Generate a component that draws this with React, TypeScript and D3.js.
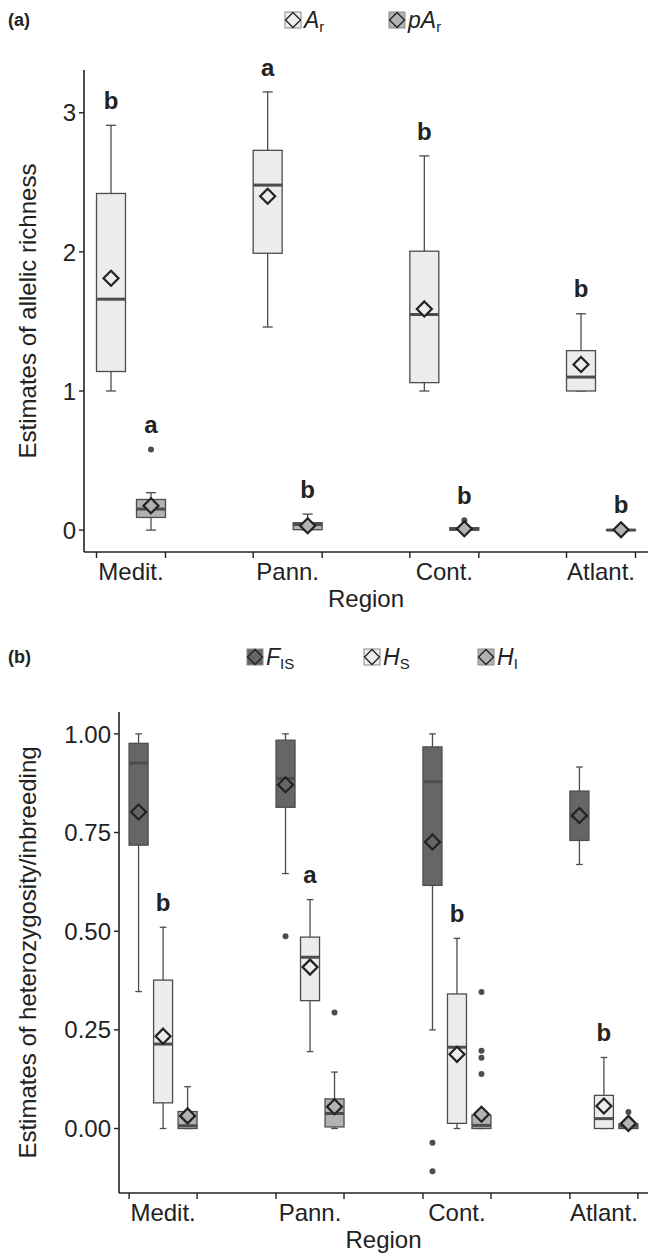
import React from "react";
import * as d3 from "d3";

// regions on the x axis
const regions = ["Medit.", "Pann.", "Cont.", "Atlant."];

// (a) allelic richness, Ar
const arLow = [1.0, 1.46, 1.0, 1.0];
const arQ1 = [1.14, 1.99, 1.06, 1.0];
const arMed = [1.66, 2.48, 1.55, 1.1];
const arQ3 = [2.42, 2.73, 2.005, 1.29];
const arHigh = [2.91, 3.15, 2.69, 1.555];
const arMean = [1.81, 2.4, 1.59, 1.19];
const arOut: number[][] = [[], [], [], []];
const arLetters = ["b", "a", "b", "b"];

// (a) private allelic richness, pAr
const parLow = [0, 0, 0, 0];
const parQ1 = [0.091, 0.003, 0.0, 0];
const parMed = [0.151, 0.04, 0.007, 0];
const parQ3 = [0.22, 0.053, 0.017, 0.002];
const parHigh = [0.269, 0.115, 0.017, 0.002];
const parMean = [0.175, 0.031, 0.01, 0.002];
const parOut: number[][] = [[0.58], [], [0.07], []];
const parLetters = ["a", "b", "b", "b"];

// (b) FIS
const fisLow = [0.347, 0.646, 0.25, 0.669];
const fisQ1 = [0.718, 0.814, 0.616, 0.73];
const fisMed = [0.926, 0.887, 0.879, 0.79];
const fisQ3 = [0.976, 0.984, 0.967, 0.855];
const fisHigh = [1.0, 1.0, 1.0, 0.916];
const fisMean = [0.802, 0.871, 0.726, 0.793];
const fisOut: number[][] = [[], [0.487], [-0.036, -0.108], []];
const fisLetters = ["", "", "", ""];

// (b) HS
const hsLow = [0, 0.195, 0, 0];
const hsQ1 = [0.065, 0.324, 0.013, 0];
const hsMed = [0.214, 0.434, 0.206, 0.025];
const hsQ3 = [0.376, 0.485, 0.341, 0.084];
const hsHigh = [0.51, 0.58, 0.482, 0.18];
const hsMean = [0.234, 0.409, 0.188, 0.057];
const hsOut: number[][] = [[], [], [], []];
const hsLetters = ["b", "a", "b", "b"];

// (b) HI
const hiLow = [0, 0, 0, 0];
const hiQ1 = [0, 0.004, 0, 0];
const hiMed = [0.007, 0.038, 0.008, 0.006];
const hiQ3 = [0.043, 0.075, 0.034, 0.012];
const hiHigh = [0.106, 0.143, 0.045, 0.02];
const hiMean = [0.032, 0.055, 0.036, 0.013];
const hiOut: number[][] = [[], [0.294], [0.346, 0.197, 0.179, 0.138], [0.042]];
const hiLetters = ["", "", "", ""];

const ticksA = [0, 1, 2, 3];
const ticksB = [0, 0.25, 0.5, 0.75, 1];

const FONT = "'Liberation Sans', Arial, Helvetica, sans-serif";
const INK = "#222";
const LINE = "#4d4d4d";

type Series = {
  main: string;
  sub: string;
  fill: string;
  low: number[];
  q1: number[];
  med: number[];
  q3: number[];
  high: number[];
  mean: number[];
  out: number[][];
  letters: string[];
};

const seriesA: Series[] = [
  { main: "A", sub: "r", fill: "#ececec", low: arLow, q1: arQ1, med: arMed, q3: arQ3, high: arHigh, mean: arMean, out: arOut, letters: arLetters },
  { main: "pA", sub: "r", fill: "#b2b2b2", low: parLow, q1: parQ1, med: parMed, q3: parQ3, high: parHigh, mean: parMean, out: parOut, letters: parLetters },
];

const seriesB: Series[] = [
  { main: "F", sub: "IS", fill: "#666666", low: fisLow, q1: fisQ1, med: fisMed, q3: fisQ3, high: fisHigh, mean: fisMean, out: fisOut, letters: fisLetters },
  { main: "H", sub: "S", fill: "#ececec", low: hsLow, q1: hsQ1, med: hsMed, q3: hsQ3, high: hsHigh, mean: hsMean, out: hsOut, letters: hsLetters },
  { main: "H", sub: "I", fill: "#b2b2b2", low: hiLow, q1: hiQ1, med: hiMed, q3: hiQ3, high: hiHigh, mean: hiMean, out: hiOut, letters: hiLetters },
];

const diamond = (cx: number, cy: number, r: number) =>
  `M${cx},${cy - r}L${cx + r},${cy}L${cx},${cy + r}L${cx - r},${cy}Z`;

type PanelProps = {
  series: Series[];
  tag: string;
  top: number;
  bottom: number;
  left: number;
  right: number;
  ticks: number[];
  fmt: (v: number) => string;
  yTitle: string;
  dodge: number;
  boxW: number;
  legendY: number;
  legendOffsets: number[];
  tagY: number;
};

function Panel(p: PanelProps) {
  const { series, top, bottom, left, right, dodge, boxW } = p;

  const all: number[] = [];
  series.forEach((s) => {
    all.push(...s.low, ...s.high);
    s.out.forEach((o) => all.push(...o));
  });
  const [lo, hi] = d3.extent(all) as [number, number];
  const pad = (hi - lo) * 0.05;

  const x = d3.scalePoint<string>().domain(regions).range([left, right]).padding(0.3);
  const y = d3.scaleLinear().domain([lo - pad, hi + pad]).range([bottom, top]);

  const n = series.length;
  const off = (i: number) => (i - (n - 1) / 2) * dodge;
  const edge = off(n - 1) + boxW / 2;
  const cap = boxW * 0.35;
  const cx = (left + right) / 2;

  return (
    <g>
      <text x={8} y={p.tagY} fontFamily={FONT} fontWeight="bold" fontSize={18} fill={INK}>
        {p.tag}
      </text>

      {/* legend */}
      {series.map((s, i) => {
        const kx = cx + p.legendOffsets[i];
        const ky = p.legendY;
        return (
          <g key={"lg" + i}>
            <rect x={kx} y={ky - 8} width={16} height={16} fill={s.fill} stroke="#8a8a8a" strokeWidth={1} />
            <path d={diamond(kx + 8, ky, 7.5)} fill={s.fill} stroke={INK} strokeWidth={1.3} />
            <text x={kx + 19} y={ky + 8} fontFamily={FONT} fontSize={23} fill={INK}>
              <tspan fontStyle="italic">{s.main}</tspan>
              <tspan fontSize={15} dy={4}>{s.sub}</tspan>
            </text>
          </g>
        );
      })}

      {/* boxes */}
      {regions.map((r, j) => (
        <g key={r}>
          {series.map((s, i) => {
            const bx = (x(r) as number) + off(i);
            const maxV = Math.max(s.high[j], ...s.out[j]);
            return (
              <g key={i}>
                <line x1={bx} x2={bx} y1={y(s.q3[j])} y2={y(s.high[j])} stroke={LINE} strokeWidth={1.3} />
                <line x1={bx} x2={bx} y1={y(s.q1[j])} y2={y(s.low[j])} stroke={LINE} strokeWidth={1.3} />
                <line x1={bx - cap / 2} x2={bx + cap / 2} y1={y(s.high[j])} y2={y(s.high[j])} stroke={LINE} strokeWidth={1.3} />
                <line x1={bx - cap / 2} x2={bx + cap / 2} y1={y(s.low[j])} y2={y(s.low[j])} stroke={LINE} strokeWidth={1.3} />
                <rect
                  x={bx - boxW / 2}
                  y={y(s.q3[j])}
                  width={boxW}
                  height={Math.max(y(s.q1[j]) - y(s.q3[j]), 0.5)}
                  fill={s.fill}
                  stroke={LINE}
                  strokeWidth={1.3}
                />
                <line x1={bx - boxW / 2} x2={bx + boxW / 2} y1={y(s.med[j])} y2={y(s.med[j])} stroke={LINE} strokeWidth={3} />
                {s.out[j].map((o, k) => (
                  <circle key={k} cx={bx} cy={y(o)} r={3} fill={LINE} />
                ))}
                <path d={diamond(bx, y(s.mean[j]), 7.5)} fill={s.fill} stroke={INK} strokeWidth={2.2} />
                {s.letters[j] && (
                  <text
                    x={bx}
                    y={y(maxV) - 25}
                    dy="0.36em"
                    textAnchor="middle"
                    fontFamily={FONT}
                    fontWeight="bold"
                    fontSize={24}
                    fill={INK}
                  >
                    {s.letters[j]}
                  </text>
                )}
              </g>
            );
          })}
        </g>
      ))}

      {/* axes */}
      <line x1={left} x2={left} y1={top} y2={bottom} stroke={INK} strokeWidth={1.6} />
      <line x1={left} x2={right} y1={bottom} y2={bottom} stroke={INK} strokeWidth={1.6} />
      {p.ticks.map((t) => (
        <g key={t}>
          <line x1={left - 5} x2={left} y1={y(t)} y2={y(t)} stroke={INK} strokeWidth={1.4} />
          <text x={left - 8} y={y(t)} dy="0.36em" textAnchor="end" fontFamily={FONT} fontSize={24} fill={INK}>
            {p.fmt(t)}
          </text>
        </g>
      ))}
      {regions.map((r) => (
        <g key={"xt" + r}>
          <line x1={(x(r) as number) - edge} x2={(x(r) as number) - edge} y1={bottom} y2={bottom + 6} stroke={INK} strokeWidth={1.4} />
          <line x1={(x(r) as number) + edge} x2={(x(r) as number) + edge} y1={bottom} y2={bottom + 6} stroke={INK} strokeWidth={1.4} />
          <text x={x(r)} y={bottom + 28} textAnchor="middle" fontFamily={FONT} fontSize={24} fill={INK}>
            {r}
          </text>
        </g>
      ))}
      <text x={cx} y={bottom + 55} textAnchor="middle" fontFamily={FONT} fontSize={24} fill={INK}>
        Region
      </text>
      <text
        transform={`translate(36,${(top + bottom) / 2}) rotate(-90)`}
        textAnchor="middle"
        fontFamily={FONT}
        fontSize={24}
        fill={INK}
      >
        {p.yTitle}
      </text>
    </g>
  );
}

export default function App() {
  return (
    <svg
      width={654}
      height={1258}
      style={{ position: "absolute", left: 0, top: 0, background: "#fff" }}
    >
      <rect width={654} height={1258} fill="#fff" />
      <Panel
        series={seriesA}
        tag="(a)"
        tagY={26}
        top={70}
        bottom={552}
        left={84}
        right={648}
        ticks={ticksA}
        fmt={d3.format("d")}
        yTitle="Estimates of allelic richness"
        dodge={40}
        boxW={29}
        legendY={20}
        legendOffsets={[-81, 23]}
      />
      <Panel
        series={seriesB}
        tag="(b)"
        tagY={663}
        top={712}
        bottom={1193}
        left={119}
        right={648}
        ticks={ticksB}
        fmt={d3.format(".2f")}
        yTitle="Estimates of heterozygosity/inbreeding"
        dodge={24.5}
        boxW={19}
        legendY={657}
        legendOffsets={[-136.5, -19.5, 94.5]}
      />
    </svg>
  );
}
